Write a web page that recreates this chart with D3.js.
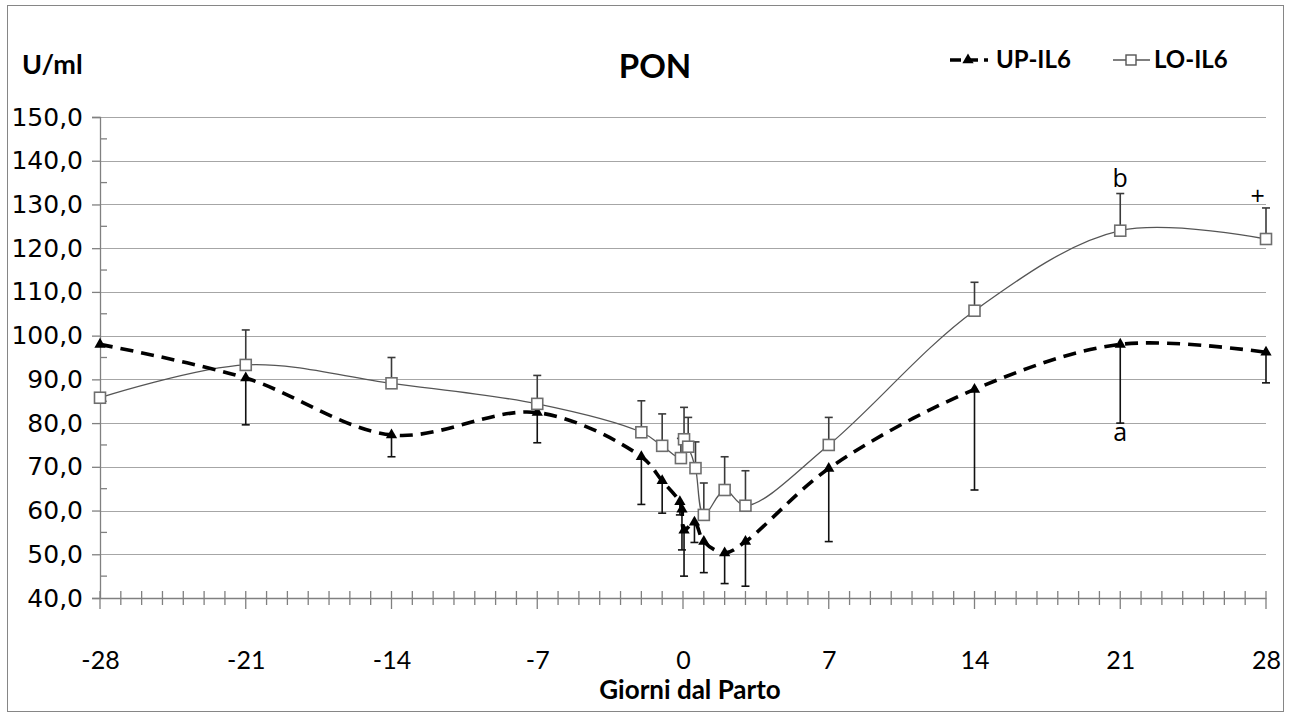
<!DOCTYPE html>
<html><head><meta charset="utf-8">
<script src="https://cdn.jsdelivr.net/npm/d3@7"></script>
<style>body{margin:0;background:#fff}svg{display:block}</style>
</head><body>
<svg id="c" width="1293" height="717"></svg>
<script>
const chartTitle = "PON";
const yTitle = "U/ml";
const xTitle = "Giorni dal Parto";
const seriesNames = ["UP-IL6", "LO-IL6"];
const xTickValues = [-28, -21, -14, -7, 0, 7, 14, 21, 28];
const yTickValues = [40, 50, 60, 70, 80, 90, 100, 110, 120, 130, 140, 150];

const upDays   = [-28, -21, -14, -7, -2, -1, -0.15, -0.05, 0.05, 0.55, 1, 2, 3, 7, 14, 21, 28];
const upValues = [98.0, 90.3, 77.3, 82.4, 72.3, 66.8, 62.0, 60.3, 55.5, 57.3, 52.9, 50.3, 52.9, 69.6, 87.7, 98.0, 96.2];
const upErrLow = [0, 10.7, 5.0, 6.9, 10.9, 7.4, 3.0, 9.3, 10.5, 4.6, 7.1, 7.0, 10.2, 16.7, 23.0, 18.0, 7.0];

const loDays    = [-28, -21, -14, -7, -2, -1, -0.1, 0.05, 0.25, 0.6, 1, 2, 3, 7, 14, 21, 28];
const loValues  = [85.8, 93.3, 89.1, 84.4, 77.9, 74.8, 72.0, 76.3, 74.6, 69.7, 59.0, 64.7, 61.1, 75.0, 105.7, 124.0, 122.1];
const loErrHigh = [0, 8.0, 5.9, 6.5, 7.2, 7.3, 4.5, 7.3, 6.7, 6.0, 7.3, 7.6, 8.0, 6.3, 6.5, 8.5, 7.1];

const noteText  = ["b", "a", "+"];
const noteDay   = [21, 21, 27.6];
const noteValue = [135.5, 77.5, 131.5];

const svg = d3.select("#c");
const font = "Lato, 'Open Sans', sans-serif";
const x = d3.scaleLinear().domain([-28, 28]).range([100, 1266]);
const y = d3.scaleLinear().domain([40, 150]).range([598, 117]);

// outer border
svg.append("rect").attr("x", 7.5).attr("y", 5.5).attr("width", 1276).attr("height", 706)
  .attr("fill", "#fff").attr("stroke", "#868686").attr("stroke-width", 1);

// gridlines
svg.append("g").selectAll("line").data(yTickValues.filter(v => v > 40)).join("line")
  .attr("x1", x(-28)).attr("x2", x(28)).attr("y1", d => Math.round(y(d)) + 0.5).attr("y2", d => Math.round(y(d)) + 0.5)
  .attr("stroke", "#a6a6a6").attr("stroke-width", 1.2);

// y axis
const yAxis = svg.append("g").attr("transform", `translate(${x(-28)},0)`)
  .call(d3.axisLeft(y).tickValues(yTickValues).tickSize(8).tickFormat(d => d3.format(".1f")(d).replace(".", ",")));
yAxis.select(".domain").attr("stroke", "#808080").attr("stroke-width", 1.3);
yAxis.selectAll(".tick line").attr("stroke", "#808080").attr("stroke-width", 1.3);
yAxis.selectAll(".tick text").attr("font-family", "'DejaVu Sans', Verdana, sans-serif").attr("font-size", 25)
  .attr("fill", "#000").attr("x", -17);
// minor y ticks
const yMinor = d3.range(45, 150, 10);
svg.append("g").selectAll("line").data(yMinor).join("line")
  .attr("x1", x(-28)).attr("x2", x(-28) + 7).attr("y1", d => y(d)).attr("y2", d => y(d))
  .attr("stroke", "#808080").attr("stroke-width", 1.3);

// x axis
const xAxis = svg.append("g").attr("transform", `translate(0,${y(40)})`)
  .call(d3.axisBottom(x).tickValues(xTickValues).tickSize(0).tickFormat(d => d));
xAxis.select(".domain").attr("stroke", "#808080").attr("stroke-width", 1.3);
xAxis.selectAll(".tick text").attr("font-family", font).attr("font-size", 25).attr("fill", "#000")
  .attr("y", 71).attr("dy", 0);
const xMinor = d3.range(-28, 29, 1);
svg.append("g").selectAll("line").data(xMinor).join("line")
  .attr("x1", d => x(d)).attr("x2", d => x(d))
  .attr("y1", d => y(40) - 7).attr("y2", d => y(40) + (d % 7 === 0 ? 11 : 7))
  .attr("stroke", "#808080").attr("stroke-width", 1.3);

const curve = d3.curveCatmullRom.alpha(0.5);
const upPts = upDays.map((d, i) => ({d, v: upValues[i], e: upErrLow[i]}));
const loPts = loDays.map((d, i) => ({d, v: loValues[i], e: loErrHigh[i]}));

// error bars
function errBars(pts, dir, color) {
  const g = svg.append("g").attr("stroke", color).attr("stroke-width", 1.6);
  pts.filter(p => p.e > 0).forEach(p => {
    const x0 = x(p.d), y0 = y(p.v), y1 = y(p.v + dir * p.e);
    g.append("line").attr("x1", x0).attr("x2", x0).attr("y1", y0).attr("y2", y1);
    g.append("line").attr("x1", x0 - 4).attr("x2", x0 + 4).attr("y1", y1).attr("y2", y1);
  });
}
errBars(loPts, 1, "#3a3a3a");
errBars(upPts, -1, "#111");

// lines
svg.append("path").datum(loPts).attr("fill", "none").attr("stroke", "#555").attr("stroke-width", 1.3)
  .attr("d", d3.line().x(p => x(p.d)).y(p => y(p.v)).curve(curve));
svg.append("path").datum(upPts).attr("fill", "none").attr("stroke", "#000").attr("stroke-width", 3.6)
  .attr("stroke-dasharray", "13,8")
  .attr("d", d3.line().x(p => x(p.d)).y(p => y(p.v)).curve(curve));

// markers
const tri = d3.symbol().type(d3.symbolTriangle).size(55);
svg.append("g").selectAll("path").data(upPts).join("path")
  .attr("d", tri).attr("transform", p => `translate(${x(p.d)},${y(p.v)})`).attr("fill", "#000");
svg.append("g").selectAll("rect").data(loPts).join("rect")
  .attr("x", p => x(p.d) - 5.5).attr("y", p => y(p.v) - 5.5).attr("width", 11).attr("height", 11)
  .attr("fill", "#fff").attr("stroke", "#6e6e6e").attr("stroke-width", 1.6);

// annotations
svg.append("g").selectAll("text").data(noteText).join("text")
  .attr("x", (t, i) => x(noteDay[i])).attr("y", (t, i) => y(noteValue[i]))
  .attr("text-anchor", "middle").attr("dominant-baseline", "middle")
  .attr("font-family", "'Open Sans', sans-serif").attr("font-size", 25).attr("fill", "#000").text(t => t);

// titles
svg.append("text").attr("x", 655).attr("y", 78).attr("text-anchor", "middle")
  .attr("font-family", font).attr("font-weight", "bold").attr("font-size", 33).text(chartTitle);
svg.append("text").attr("x", 22).attr("y", 74)
  .attr("font-family", font).attr("font-weight", "bold").attr("font-size", 27).text(yTitle);
svg.append("text").attr("x", 690).attr("y", 699).attr("text-anchor", "middle")
  .attr("font-family", font).attr("font-weight", "bold").attr("font-size", 26).text(xTitle);

// legend
const lg = svg.append("g");
lg.append("line").attr("x1", 950).attr("x2", 988).attr("y1", 60).attr("y2", 60)
  .attr("stroke", "#000").attr("stroke-width", 3.6).attr("stroke-dasharray", "11,6");
lg.append("path").attr("d", tri).attr("transform", "translate(968,60)").attr("fill", "#000");
lg.append("text").attr("x", 996).attr("y", 68).attr("font-family", font).attr("font-weight", "bold")
  .attr("font-size", 24).text(seriesNames[0]);
lg.append("line").attr("x1", 1113).attr("x2", 1150).attr("y1", 60).attr("y2", 60)
  .attr("stroke", "#555").attr("stroke-width", 1.3);
lg.append("rect").attr("x", 1126).attr("y", 55).attr("width", 10).attr("height", 10)
  .attr("fill", "#fff").attr("stroke", "#555").attr("stroke-width", 1.4);
lg.append("text").attr("x", 1154).attr("y", 68).attr("font-family", font).attr("font-weight", "bold")
  .attr("font-size", 24).text(seriesNames[1]);
</script>
</body></html>
